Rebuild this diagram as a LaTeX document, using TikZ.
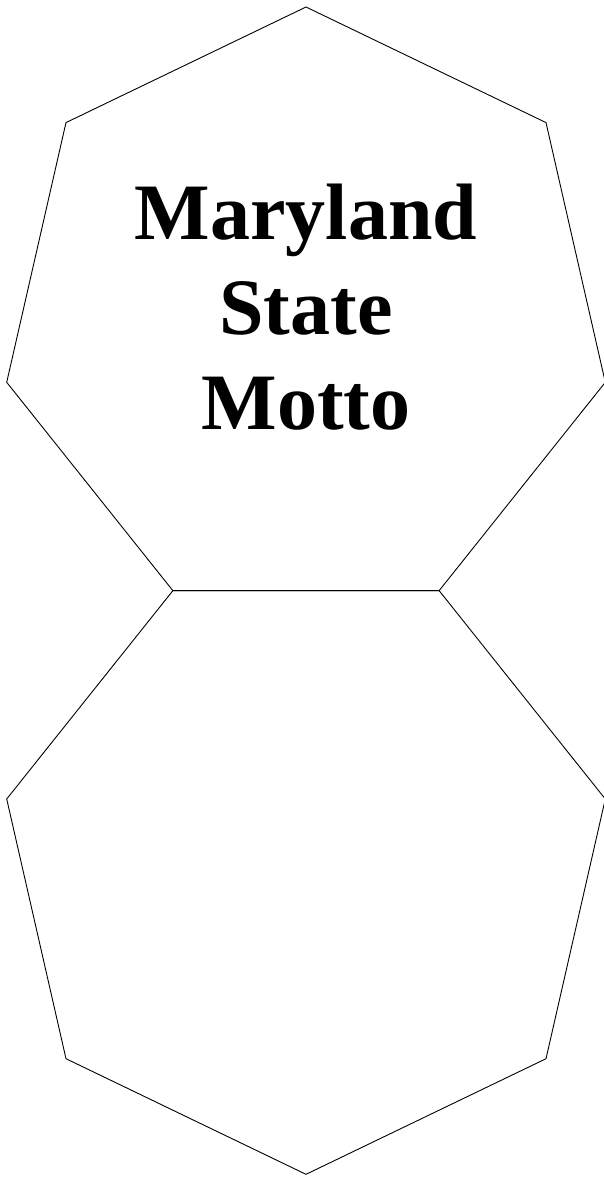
\documentclass[tikz,border=0pt]{standalone}
\usepackage{fontspec}
\setmainfont{Liberation Serif}
\usetikzlibrary{shapes.geometric}
\begin{document}
\begin{tikzpicture}[x=1pt,y=-1pt,
  hepta/.style={draw=black,line width=0.9pt,regular polygon,regular polygon sides=7,
    minimum size=614pt,inner sep=0pt,outer sep=0pt},
  title/.style={font=\bfseries\fontsize{80}{95}\selectfont,align=center,inner sep=0pt}]
\useasboundingbox (0,0) rectangle (604,1178);
\node[hepta] (top) at (306,314) {};
\node[hepta,shape border rotate=180] (bottom) at (306,867.3) {};
\node[title] (label) at (306,307) {Maryland\\State\\Motto};
\end{tikzpicture}
\end{document}
